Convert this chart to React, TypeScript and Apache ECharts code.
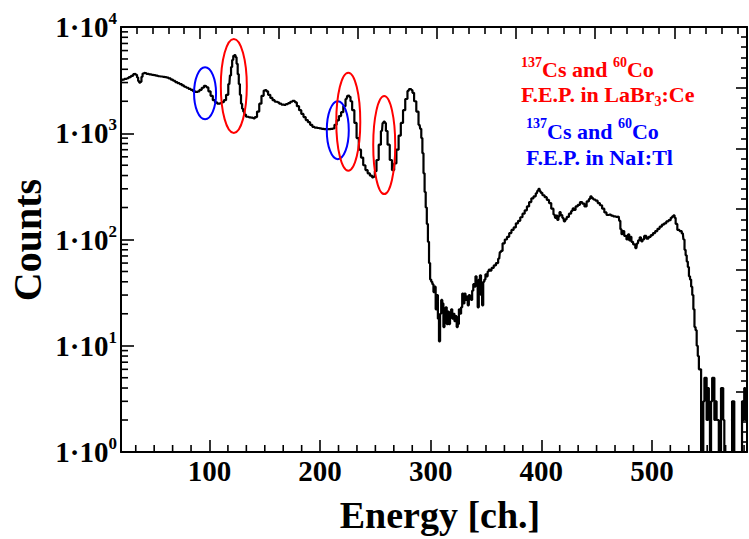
import React, { useEffect, useRef } from 'react';
import * as echarts from 'echarts';

// ---- Spectrum (channel, counts) ----
const REGION_LOW: [number, number][] = [
  [20,3150],[22,3200],[24,3250],[26,3300],[28,3380],[30,3470],[32,3600],[33,3620],[34,3550],[35,3350],[36,3100],[37,2990],[38,3050],[39,3400],[40,3650],[41,3700],[42,3680],[44,3620],[46,3580],[48,3550],[50,3520],[52,3480],[54,3440],[56,3420],[58,3400],[60,3370],[62,3340],[64,3280],[66,3200],[68,3120],[70,3030],[72,2960],[74,2900],[76,2820],[78,2740],[80,2680],[82,2620],[84,2560],[86,2490],[88,2450],[90,2480],[92,2560],[94,2680],[96,2800],[97,2780],[98,2700],[100,2480],[102,2250],[104,2050],[106,1950],[108,1900],[110,1920],[112,1960],[114,2050],[116,2300],[118,2900],[119,3500],[120,4200],[121,4900],[122,5350],[123,5450],[124,5200],[125,4500],[126,3600],[127,2900],[128,2300],[129,1900],[130,1700],[131,1600],[132,1500],[134,1430],[136,1410],[138,1400],[140,1380]
];
const REGION_PEAKS: [number, number][] = [
  [142,1420],[144,1600],[146,1900],[148,2250],[150,2520],[151,2550],[152,2480],[154,2300],[156,2150],[158,2050],[160,1980],[162,1950],[164,1900],[166,1860],[168,1850],[170,1880],[172,1920],[174,1980],[176,2020],[177,2020],[178,1950],[180,1800],[182,1650],[184,1520],[186,1420],[188,1330],[190,1270],[192,1200],[194,1150],[196,1130],[198,1120],[200,1110],[202,1100],[204,1095],[206,1090],[208,1095],[210,1100],[212,1110],[214,1200],[216,1320],[218,1450],[220,1580],[222,1800],[224,2100],[225,2250],[226,2280],[227,2200],[228,2000],[230,1650],[232,1250],[234,900],[236,700],[238,590],[240,500],[242,450],[244,420],[246,400],[248,385],[249,390],[250,440],[252,560],[254,780],[256,1050],[257,1250],[258,1290],[259,1250],[260,1050],[262,780],[264,560],[266,450],[268,520],[270,700],[272,950],[274,1250],[276,1650],[278,2100],[280,2500],[281,2600],[282,2600],[283,2550],[284,2400],[286,2000],[288,1600],[290,1200],[291,1100],[292,900],[293,650],[294,420],[295,280],[296,200],[297,140],[298,95],[299,60],[300,42]
];
const REGION_VALLEY: [number, number][] = [
  [301,40],[302,38],[303,32],[304,36],[305,22],[306,30],[307,18],[308,11],[309,20],[310,27],[311,25],[312,15],[313,21],[314,23],[315,16],[316,21],[317,16],[318,19],[319,22],[320,18],[321,20],[322,17],[323,19],[324,15],[325,16],[326,22],[327,20],[328,23],[329,31],[330,25],[331,31],[332,27],[333,29],[334,24],[335,30],[336,28],[337,27],[338,33],[339,38],[340,36],[341,45],[342,40],[343,23],[344,42],[345,46],[346,30],[347,24],[348,40],[349,42],[350,47],[351,45],[352,50],[353,52],[354,51],[356,54],[358,57],[360,60],[362,66],[363,76],[364,78],[366,92]
];
const REGION_HIGH: [number, number][] = [
  [368,100],[370,106],[372,115],[374,123],[376,130],[378,142],[380,150],[382,162],[384,175],[386,188],[388,205],[390,225],[392,244],[394,255],[396,272],[397,288],[398,300],[399,285],[400,275],[402,261],[404,250],[406,236],[408,220],[410,195],[412,172],[413,160],[414,168],[415,153],[416,165],[417,181],[418,170],[420,160],[421,148],[422,155],[424,163],[426,175],[428,185],[429,196],[430,190],[432,205],[434,212],[436,225],[438,218],[440,205],[442,228],[444,240],[445,255],[446,245],[448,238],[450,232],[452,220],[454,210],[456,195],[458,180],[460,170],[462,172],[464,168],[466,165],[468,163],[470,165],[471,150],[472,125],[473,112],[474,120],[476,108],[478,100],[479,112],[480,98],[481,106],[482,95],[484,90],[486,83],[487,92],[488,98],[490,105],[491,96],[492,100],[494,108],[496,102],[498,106],[500,110],[502,115],[504,120],[506,126],[508,132],[510,138],[512,142],[514,148],[516,152],[518,160],[519,165],[520,169],[521,160],[522,140],[524,123],[526,120],[528,114],[529,100],[530,80],[531,71],[532,62],[533,55],[534,45],[535,42],[536,36],[537,30],[538,22],[539,15],[540,14],[541,10],[542,8]
];
const REGION_TAIL: [number, number][] = [
  [543,6],[544,6],[545,1],[546,1],[547,3],[548,5],[549,5],[550,2],[551,4],[552,2],[553,1],[554,3],[555,5],[556,5],[557,2],[558,3],[559,2],[560,2],[561,1],[562,1],[563,4],[564,4],[565,2],[566,1],[567,1],[568,1],[569,1],[570,1],[571,1],[572,1],[573,3],[574,3],[575,1],[576,1],[577,1],[578,1],[579,1],[580,1],[581,1],[582,3],[583,2],[584,4],[585,2],[586,3]
];

// ---- Axes ----
const X_MIN = 20;
const X_MAX = 586;
const Y_MIN = 1;
const Y_MAX = 10000;
const X_MINOR_STEP = 100 / 6;
const LOG_MINOR_MULT = [2, 3, 4, 5, 6, 7, 8, 9];
const LOG_DECADES = [1, 10, 100, 1000];

// ---- Annotation ellipses (centre in channel/counts, radii in px) ----
const ELLIPSES = [
  { ch: 96, counts: 2380, rx: 11, ry: 26, color: '#0000ff' },
  { ch: 122, counts: 2790, rx: 13, ry: 47, color: '#ff0000' },
  { ch: 216, counts: 1070, rx: 11, ry: 29, color: '#0000ff' },
  { ch: 225.5, counts: 1285, rx: 12, ry: 49, color: '#ff0000' },
  { ch: 258, counts: 775, rx: 11, ry: 49, color: '#ff0000' },
];

const FONT = '"Liberation Serif", "Times New Roman", serif';
const W = 749;
const H = 539;

type Tok = { t: string; size: number; dy: number };
const LEGEND_LINES: { x: number; base: number; color: string; toks: Tok[] }[] = [
  { x: 521, base: 77, color: '#ff0000', toks: [
    { t: '137', size: 14, dy: -10 }, { t: 'Cs and ', size: 22, dy: 0 }, { t: '60', size: 14, dy: -10 }, { t: 'Co', size: 22, dy: 0 } ] },
  { x: 521, base: 102, color: '#ff0000', toks: [
    { t: 'F.E.P. in LaBr', size: 22, dy: 0 }, { t: '3', size: 14, dy: 4 }, { t: ':Ce', size: 22, dy: 0 } ] },
  { x: 526, base: 138.5, color: '#0000ff', toks: [
    { t: '137', size: 14, dy: -10 }, { t: 'Cs and ', size: 22, dy: 0 }, { t: '60', size: 14, dy: -10 }, { t: 'Co', size: 22, dy: 0 } ] },
  { x: 526, base: 165, color: '#0000ff', toks: [
    { t: 'F.E.P. in NaI:Tl', size: 22, dy: 0 } ] },
];

export default function App() {
  const ref = useRef<HTMLDivElement>(null);
  useEffect(() => {
    const el = ref.current!;
    const chart = echarts.init(el, null, { renderer: 'svg', width: W, height: H });
    const data = [...REGION_LOW, ...REGION_PEAKS, ...REGION_VALLEY, ...REGION_HIGH, ...REGION_TAIL];
    const black = '#000';
    chart.setOption({
      animation: false,
      backgroundColor: '#fff',
      grid: { left: 121, right: 2, top: 27, bottom: 87, containLabel: false },
      xAxis: [
        {
          type: 'value', min: X_MIN, max: X_MAX, position: 'bottom',
          axisLine: { show: true, onZero: false, lineStyle: { color: black, width: 2 } },
          axisTick: { show: true, inside: true, length: 12, lineStyle: { color: black, width: 1.6 } },
          minorTick: { show: false },
          splitLine: { show: false },
          axisLabel: {
            show: true, margin: 4, showMinLabel: false, showMaxLabel: false,
            fontFamily: FONT, fontWeight: 'bold', fontSize: 29, color: black,
          },
        },
        {
          type: 'value', min: 0, max: 7.92, interval: 1, position: 'top',
          axisLine: { show: true, onZero: false, lineStyle: { color: black, width: 2 } },
          axisTick: { show: true, inside: true, length: 12, lineStyle: { color: black, width: 1.6 } },
          minorTick: { show: true, splitNumber: 5, length: 7, lineStyle: { color: black, width: 1.6 } },
          splitLine: { show: false },
          axisLabel: { show: false },
        },
      ],
      yAxis: [
        {
          type: 'log', logBase: 10, min: Y_MIN, max: Y_MAX, position: 'left',
          axisLine: { show: true, onZero: false, lineStyle: { color: black, width: 2 } },
          axisTick: { show: true, inside: true, length: 13, lineStyle: { color: black, width: 1.6 } },
          minorTick: { show: false },
          splitLine: { show: false },
          axisLabel: {
            show: true, margin: 4,
            formatter: (v: number) => `{m|1·10}{s|${Math.round(Math.log10(v))}}`,
            rich: {
              m: { fontFamily: FONT, fontWeight: 'bold', fontSize: 29, color: black, lineHeight: 34 },
              s: { fontFamily: FONT, fontWeight: 'bold', fontSize: 17, color: black, lineHeight: 20, verticalAlign: 'top' },
            },
          },
        },
        {
          type: 'value', min: 0, max: 7, interval: 1, position: 'right',
          axisLine: { show: true, onZero: false, lineStyle: { color: black, width: 2 } },
          axisTick: { show: true, inside: true, length: 11, lineStyle: { color: black, width: 1.6 } },
          minorTick: { show: true, splitNumber: 6, length: 6, lineStyle: { color: black, width: 1.6 } },
          splitLine: { show: false },
          axisLabel: { show: false },
        },
      ],
      series: [
        {
          type: 'line', xAxisIndex: 0, yAxisIndex: 0, step: 'middle',
          data, symbol: 'none', showSymbol: false, clip: true,
          lineStyle: { color: black, width: 2.2 },
        },
      ],
    });

    const xPix = (v: number) => chart.convertToPixel({ xAxisIndex: 0 }, v) as number;
    const yPix = (v: number) => chart.convertToPixel({ yAxisIndex: 0 }, v) as number;
    const axisX = xPix(X_MIN);
    const axisY = yPix(Y_MIN);

    const graphics: any[] = [];
    // log minor ticks on the left axis
    LOG_DECADES.forEach((d) => {
      LOG_MINOR_MULT.forEach((m) => {
        const y = yPix(d * m);
        graphics.push({ type: 'line', shape: { x1: axisX, y1: y, x2: axisX + 7, y2: y }, style: { stroke: black, lineWidth: 1.6 }, z: 50 });
      });
    });
    // minor ticks on the bottom axis
    for (let k = 1; k * X_MINOR_STEP < X_MAX; k++) {
      const v = k * X_MINOR_STEP;
      if (v <= X_MIN || k % 6 === 0) continue;
      const x = xPix(v);
      graphics.push({ type: 'line', shape: { x1: x, y1: axisY, x2: x, y2: axisY - 7 }, style: { stroke: black, lineWidth: 1.6 }, z: 50 });
    }
    // ellipses
    ELLIPSES.forEach((e) => {
      const p = chart.convertToPixel({ seriesIndex: 0 }, [e.ch, e.counts]) as number[];
      graphics.push({ type: 'ellipse', shape: { cx: p[0], cy: p[1], rx: e.rx, ry: e.ry }, style: { fill: 'none', stroke: e.color, lineWidth: 2 }, z: 60 });
    });
    // legend text
    const ctx = document.createElement('canvas').getContext('2d')!;
    LEGEND_LINES.forEach((line) => {
      let x = line.x;
      line.toks.forEach((tk) => {
        ctx.font = `bold ${tk.size}px ${FONT}`;
        const w = ctx.measureText(tk.t).width;
        graphics.push({
          type: 'text', x, y: line.base + tk.dy - 0.34 * tk.size, z: 70,
          style: { text: tk.t, fill: line.color, font: `bold ${tk.size}px ${FONT}`, align: 'left', verticalAlign: 'middle' },
        });
        x += w;
      });
    });
    // axis titles
    graphics.push({
      type: 'text', x: 440, y: 515, z: 70,
      style: { text: 'Energy [ch.]', fill: black, font: `bold 38px ${FONT}`, align: 'center', verticalAlign: 'middle' },
    });
    graphics.push({
      type: 'text', x: 27, y: 240, rotation: Math.PI / 2, z: 70,
      style: { text: 'Counts', fill: black, font: `bold 40px ${FONT}`, align: 'center', verticalAlign: 'middle' },
    });
    chart.setOption({ graphic: graphics });

    return () => chart.dispose();
  }, []);
  return <div ref={ref} style={{ position: 'absolute', left: 0, top: 0, width: W, height: H }} />;
}
